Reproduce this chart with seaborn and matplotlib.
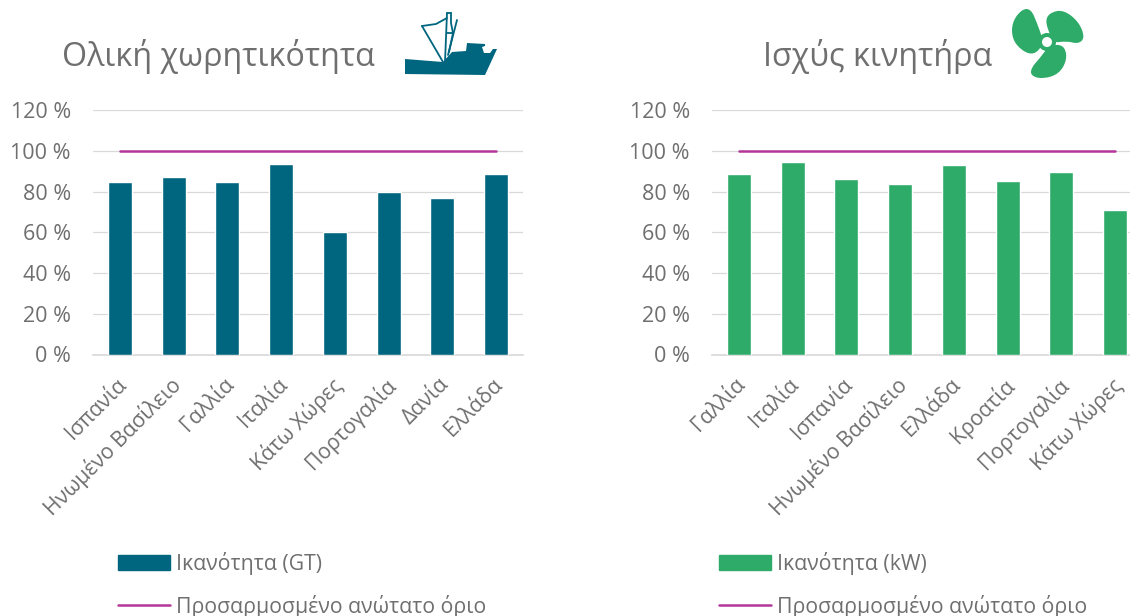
import matplotlib
matplotlib.use("Agg")
import matplotlib.pyplot as plt
import seaborn as sns
import pandas as pd
from matplotlib.patches import Polygon, Circle, PathPatch, Patch
from matplotlib.lines import Line2D
from matplotlib.path import Path
from matplotlib.transforms import ScaledTranslation

left_categories = ["Ισπανία", "Ηνωμένο Βασίλειο", "Γαλλία", "Ιταλία", "Κάτω Χώρες", "Πορτογαλία", "Δανία", "Ελλάδα"]
left_values = [84.5, 87, 84.5, 93.5, 60, 80, 77, 88.5]
right_categories = ["Γαλλία", "Ιταλία", "Ισπανία", "Ηνωμένο Βασίλειο", "Ελλάδα", "Κροατία", "Πορτογαλία", "Κάτω Χώρες"]
right_values = [88.5, 94.5, 86, 83.5, 93, 85, 89.5, 71]
ceiling = 100
yticks = [0, 20, 40, 60, 80, 100, 120]
ylabels = ["0 %", "20 %", "40 %", "60 %", "80 %", "100 %", "120 %"]

BLUE = "#00667f"
GREEN = "#2eab69"
PURPLE = "#b5369a"
GREY = "#6f6f6f"
W, H = 1130, 616

sns.set_theme(style="white")
plt.rcParams["font.family"] = ["Open Sans", "DejaVu Sans"]

fig = plt.figure(figsize=(W / 100, H / 100), dpi=100)


def make_panel(x0, cats, vals, color, title, title_x, cap_label, leg_x):
    # το x0 ειναι η αριστερη ακρη του αξονα σε pixel
    ax = fig.add_axes([x0 / W, 1 - 354.5 / H, 430 / W, (354.5 - 110) / H])
    df = pd.DataFrame({"cat": cats, "val": vals, "cap": [ceiling] * len(cats)})
    sns.barplot(data=df, x="cat", y="val", color=color, width=0.45, saturation=1, ax=ax, zorder=3)
    sns.lineplot(data=df, x="cat", y="cap", color=PURPLE, linewidth=1.8, sort=False, ax=ax, zorder=4)
    ax.set_xlim(-0.5, 7.5)
    ax.set_ylim(0, 120)
    ax.set_yticks(yticks)
    ax.set_yticklabels(ylabels, fontsize=15.5, color=GREY)
    ax.set_xlabel("")
    ax.set_ylabel("")
    ax.grid(axis="y", color="#d9d9d9", linewidth=0.9, zorder=0)
    ax.tick_params(axis="y", length=0, pad=16)
    ax.tick_params(axis="x", length=0, pad=14)
    shift = ScaledTranslation(-3 / 72, 0, fig.dpi_scale_trans)
    for lab in ax.get_xticklabels():
        lab.set_rotation(45)
        lab.set_ha("right")
        lab.set_rotation_mode("anchor")
        lab.set_fontsize(15.2)
        lab.set_color(GREY)
        lab.set_transform(lab.get_transform() + shift)
    for s in ["top", "right", "left"]:
        ax.spines[s].set_visible(False)
    ax.spines["bottom"].set_color("#d9d9d9")
    fig.text(title_x / W, 1 - 56 / H, title, fontsize=23.2, color=GREY, va="center")
    handles = [Patch(color=color, label=cap_label), Line2D([], [], color=PURPLE, lw=1.8, label="Προσαρμοσμένο ανώτατο όριο")]
    fig.legend(handles=handles, loc="upper left", bbox_to_anchor=(leg_x / W, 1 - 552 / H), frameon=False,
               fontsize=15.3, labelcolor=GREY, handlelength=2.47, handleheight=0.65, handletextpad=0.25,
               labelspacing=0.93, borderpad=0, borderaxespad=0)


make_panel(93, left_categories, left_values, BLUE, "Ολική χωρητικότητα", 62, "Ικανότητα (GT)", 118)
make_panel(712, right_categories, right_values, GREEN, "Ισχύς κινητήρα", 763, "Ικανότητα (kW)", 719)

# εικονιδια, σε συντεταγμενες pixel
icons = fig.add_axes([0, 0, 1, 1], zorder=5)
icons.set_xlim(0, W)
icons.set_ylim(H, 0)
icons.axis("off")
icons.patch.set_alpha(0)

hull = [(405, 59), (443, 62), (452, 52), (466, 51), (467, 43), (485, 44), (485, 46), (482, 47), (484, 53),
        (490, 53), (493, 49), (497, 49), (485, 75), (405, 74)]
icons.add_patch(Polygon(hull, closed=True, color=BLUE, lw=0))
for seg in ([(443, 62), (422, 26)], [(422, 26), (436, 24), (447, 18)], [(445, 62), (447, 13)],
            [(451, 13), (451, 23), (453, 33), (449, 52)], [(447, 13), (451, 13)], [(447, 33), (453, 33)],
            [(448, 55), (457, 20)]):
    icons.plot(*zip(*seg), color=BLUE, lw=1.3)


def blade(pts):
    # καμπυλη κλειστη μεσα απο τα μεσα των πλευρων
    mids = [((a[0] + b[0]) / 2, (a[1] + b[1]) / 2) for a, b in zip(pts, pts[1:] + pts[:1])]
    verts = [mids[-1]]
    codes = [Path.MOVETO]
    for p, m in zip(pts, mids):
        verts += [p, m]
        codes += [Path.CURVE3, Path.CURVE3]
    icons.add_patch(PathPatch(Path(verts, codes), facecolor=GREEN, edgecolor="none"))


blade([(1042, 37), (1037, 23), (1031, 9), (1022, 9), (1012, 22), (1012, 39), (1022, 51), (1034, 55), (1043, 45)])
blade([(1050, 35), (1045, 20), (1051, 12), (1064, 10), (1079, 22), (1085, 38), (1078, 44), (1067, 41), (1053, 43)])
blade([(1048, 47), (1040, 58), (1031, 68), (1031, 76), (1043, 79), (1059, 74), (1067, 60), (1065, 47), (1056, 44)])
icons.add_patch(Circle((1047, 42), 9, facecolor=GREEN, edgecolor="none"))
icons.add_patch(Circle((1047, 42), 5, facecolor="white", edgecolor="none"))

fig.savefig("out.png", dpi=100)
